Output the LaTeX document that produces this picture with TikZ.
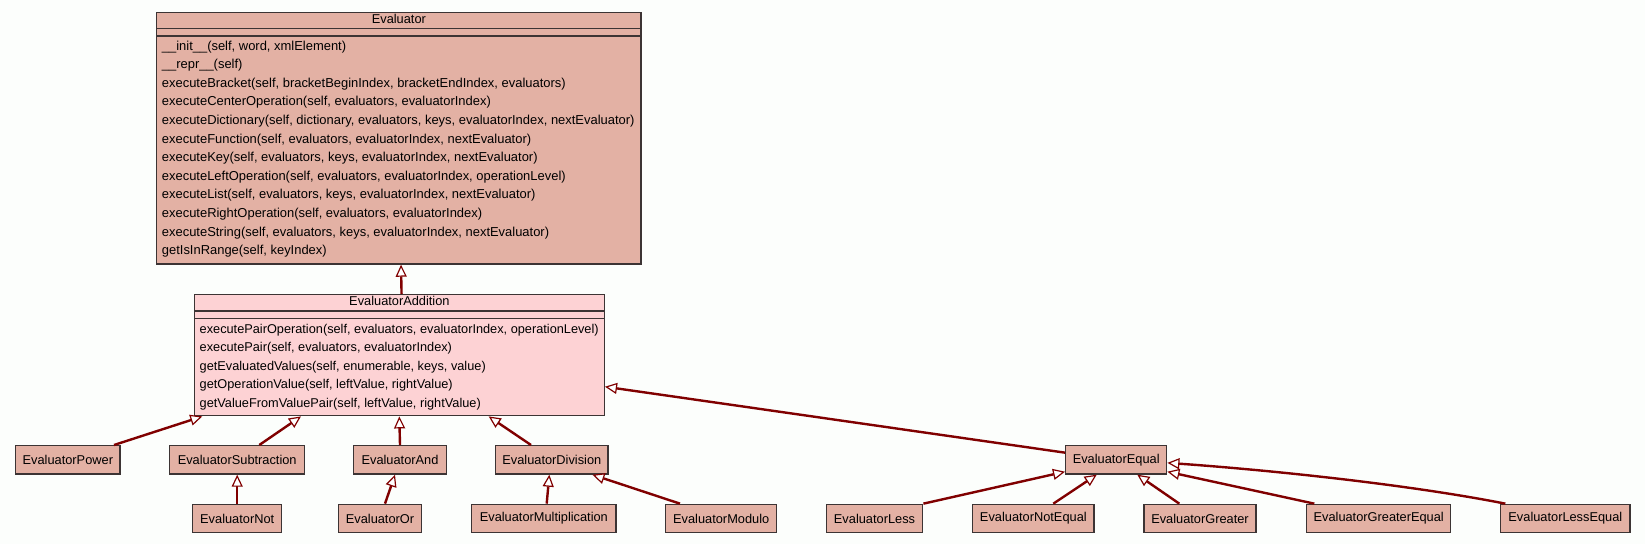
\documentclass[tikz,border=0pt]{standalone}
\usepackage{fontspec}
\setmainfont{Liberation Sans}
\usetikzlibrary{arrows.meta}
\definecolor{clsfill}{RGB}{227,177,164}
\definecolor{addfill}{RGB}{253,210,212}
\definecolor{boxline}{RGB}{60,52,52}
\definecolor{arrowred}{RGB}{128,0,0}
\definecolor{bgc}{RGB}{252,254,252}
\tikzset{
  cls/.style={draw=boxline, fill=clsfill, line width=1.4pt, inner sep=0pt, minimum height=28.3pt},
  bigcls/.style={draw=boxline, line width=1.4pt, inner sep=0pt},
  sepline/.style={draw=boxline, line width=1.4pt},
  meth/.style={anchor=west, inner sep=0pt, text height=9.3pt, text depth=2.7pt},
  ttl/.style={inner sep=0pt, text height=9.3pt, text depth=2.7pt},
  inh/.style={draw=arrowred, line width=2.4pt, -{Triangle[length=12pt,width=11pt,fill=white,line width=1.2pt]}}
}
\begin{document}
\begin{tikzpicture}[x=1pt,y=-1pt,font=\fontsize{12.8}{15}\selectfont]
\useasboundingbox[fill=bgc] (0,0) rectangle (1645,544);

% Evaluator
\node[bigcls, fill=clsfill, minimum width=484.3pt, minimum height=251.7pt] (ev) at (398.85,138.15) {};
\node[ttl] (evt) at ([yshift=-8.5pt]ev.north) {Evaluator};
\draw[sepline] ([yshift=-17pt]ev.north west) -- ([yshift=-17pt]ev.north east);
\draw[sepline] ([yshift=-24.4pt]ev.north west) -- ([yshift=-24.4pt]ev.north east);
\foreach \m [count=\i from 0] in {
  {\_\_init\_\_(self, word, xmlElement)},
  {\_\_repr\_\_(self)},
  {executeBracket(self, bracketBeginIndex, bracketEndIndex, evaluators)},
  {executeCenterOperation(self, evaluators, evaluatorIndex)},
  {executeDictionary(self, dictionary, evaluators, keys, evaluatorIndex, nextEvaluator)},
  {executeFunction(self, evaluators, evaluatorIndex, nextEvaluator)},
  {executeKey(self, evaluators, keys, evaluatorIndex, nextEvaluator)},
  {executeLeftOperation(self, evaluators, evaluatorIndex, operationLevel)},
  {executeList(self, evaluators, keys, evaluatorIndex, nextEvaluator)},
  {executeRightOperation(self, evaluators, evaluatorIndex)},
  {executeString(self, evaluators, keys, evaluatorIndex, nextEvaluator)},
  {getIsInRange(self, keyIndex)}}
  \node[meth, font=\fontsize{12.95}{15}\selectfont] (evm\i) at (161.7,{46.7+18.6*\i}) {\m};

% EvaluatorAddition
\node[bigcls, fill=addfill, minimum width=409.8pt, minimum height=121pt] (add) at (399.4,355.2) {};
\node[ttl] (addt) at ([yshift=-8.5pt]add.north) {EvaluatorAddition};
\draw[sepline] ([yshift=-17pt]add.north west) -- ([yshift=-17pt]add.north east);
\draw[sepline] ([yshift=-24.6pt]add.north west) -- ([yshift=-24.6pt]add.north east);
\foreach \m [count=\i from 0] in {
  {executePairOperation(self, evaluators, evaluatorIndex, operationLevel)},
  {executePair(self, evaluators, evaluatorIndex)},
  {getEvaluatedValues(self, enumerable, keys, value)},
  {getOperationValue(self, leftValue, rightValue)},
  {getValueFromValuePair(self, leftValue, rightValue)}}
  \node[meth, font=\fontsize{12.75}{15}\selectfont] (addm\i) at (199.5,{330+18.5*\i}) {\m};

% second row
\node[cls, minimum width=104.3pt] (pow) at (67.85,459.85) {EvaluatorPower};
\node[cls, minimum width=135pt] (sub) at (237.2,459.85) {EvaluatorSubtraction};
\node[cls, minimum width=92.6pt] (and) at (400,459.85) {EvaluatorAnd};
\node[cls, minimum width=112.3pt] (div) at (551.85,459.85) {EvaluatorDivision};
\node[cls, minimum width=101pt] (eq) at (1116.2,459.85) {EvaluatorEqual};

% third row
\node[cls, minimum width=89pt] (not) at (237.2,518.5) {EvaluatorNot};
\node[cls, minimum width=83.4pt] (or) at (380,518.5) {EvaluatorOr};
\node[cls, minimum width=144.3pt] (mul) at (543.85,518.5) {EvaluatorMultiplication};
\node[cls, minimum width=111pt] (mod) at (721.2,518.5) {EvaluatorModulo};
\node[cls, minimum width=96.4pt] (less) at (874.5,518.5) {EvaluatorLess};
\node[cls, minimum width=121.3pt] (neq) at (1033.35,518.5) {EvaluatorNotEqual};
\node[cls, minimum width=112pt] (gr) at (1200,518.5) {EvaluatorGreater};
\node[cls, minimum width=144pt] (ge) at (1378.7,518.5) {EvaluatorGreaterEqual};
\node[cls, minimum width=129.3pt] (le) at (1565.35,518.5) {EvaluatorLessEqual};

% inheritance connectors
\draw[inh] ([xshift=2.15pt]add.north) -- ([xshift=2.15pt]ev.south);
\draw[inh] ([xshift=-6.7pt]pow.north east) -- ([xshift=8.5pt]add.south west);
\draw[inh] ([xshift=22.1pt]sub.north) -- ([xshift=107.2pt]add.south west);
\draw[inh] (and.north) -- ([xshift=205.5pt]add.south west);
\draw[inh] ([xshift=-20.85pt]div.north) -- ([xshift=-116.3pt]add.south east);
\draw[inh] ([yshift=7.2pt]eq.west) -- ([yshift=-31.5pt]add.east);
\draw[inh] (not.north) -- (sub.south);
\draw[inh] ([xshift=5pt]or.north) -- ([xshift=-5pt]and.south);
\draw[inh] ([xshift=2.85pt]mul.north) -- ([xshift=-2.55pt]div.south);
\draw[inh] ([xshift=-41.2pt]mod.north) -- ([xshift=-16.3pt]div.south east);
\draw[inh] (less.north east) -- ([yshift=3pt]eq.south west);
\draw[inh] ([xshift=19.95pt]neq.north) -- ([xshift=-19.5pt]eq.south);
\draw[inh] ([xshift=-20.7pt]gr.north) -- ([xshift=21.1pt]eq.south);
\draw[inh] ([xshift=8.3pt]ge.north west) -- ([yshift=3pt]eq.south east);
\draw[inh] ([xshift=5.3pt]le.north west) .. controls +(-96,-19) and +(103.3,7.3) .. ([yshift=-3pt]eq.east);
\end{tikzpicture}
\end{document}
